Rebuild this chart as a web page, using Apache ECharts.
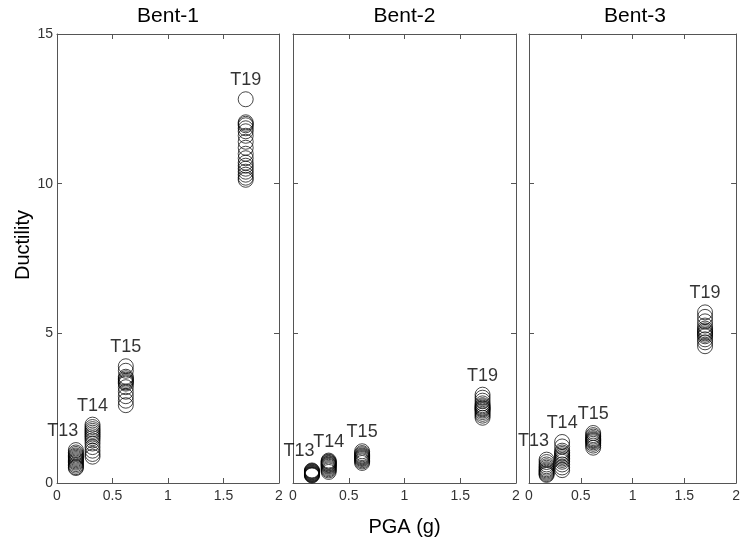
<!DOCTYPE html>
<html>
<head>
<meta charset="utf-8">
<title>Ductility vs PGA</title>
<script src="https://cdn.jsdelivr.net/npm/echarts@6/dist/echarts.min.js"></script>
<style>
  html, body { margin: 0; padding: 0; background: #fff; }
  #chart { width: 743px; height: 544px; }
</style>
</head>
<body>
<div id="chart"></div>
<script>
// Ductility demand per bent, for each ground motion set (T13, T14, T15, T19)

const bentNames = ['Bent-1', 'Bent-2', 'Bent-3'];
const groupNames = ['T13', 'T14', 'T15', 'T19'];
const groupPGA = [0.17, 0.32, 0.62, 1.70];
const xTicks = [0, 0.5, 1, 1.5, 2];
const yTicks = [0, 5, 10, 15];

// one list of ductility values per group (T13, T14, T15, T19)
const bent1Ductility = [
    [1.1, 1.02, 0.97, 0.92, 0.88, 0.84, 0.8, 0.76, 0.72, 0.68, 0.63, 0.58, 0.53, 0.5],
    [1.95, 1.87, 1.8, 1.74, 1.68, 1.62, 1.56, 1.5, 1.42, 1.32, 1.2, 1.08, 0.97, 0.88],
    [3.9, 3.75, 3.55, 3.5, 3.45, 3.4, 3.36, 3.32, 3.2, 3.05, 2.9, 2.75, 2.6],
    [12.82, 12.05, 12.0, 11.95, 11.85, 11.75, 11.6, 11.4, 11.2, 11.0, 10.85, 10.7, 10.6, 10.5, 10.4, 10.3, 10.2, 10.13]
];
const bent2Ductility = [
    [0.42, 0.4, 0.38, 0.36, 0.34, 0.32, 0.3, 0.28, 0.27, 0.25],
    [0.75, 0.72, 0.7, 0.67, 0.65, 0.62, 0.6, 0.57, 0.54, 0.5, 0.46, 0.42, 0.37],
    [1.06, 1.0, 0.96, 0.92, 0.89, 0.86, 0.83, 0.8, 0.76, 0.72, 0.67],
    [2.95, 2.85, 2.75, 2.66, 2.6, 2.56, 2.52, 2.49, 2.46, 2.42, 2.37, 2.31, 2.25, 2.18]
];
const bent3Ductility = [
    [0.78, 0.7, 0.62, 0.56, 0.51, 0.46, 0.42, 0.38, 0.34, 0.3, 0.27],
    [1.37, 1.22, 1.08, 1.02, 0.97, 0.92, 0.87, 0.82, 0.77, 0.71, 0.62, 0.52, 0.43],
    [1.67, 1.6, 1.55, 1.5, 1.46, 1.43, 1.4, 1.36, 1.31, 1.25, 1.18],
    [5.7, 5.55, 5.4, 5.26, 5.16, 5.1, 5.05, 5.0, 4.95, 4.9, 4.8, 4.7, 4.57]
];
const allDuctility = [bent1Ductility, bent2Ductility, bent3Ductility];

const chart = echarts.init(document.getElementById('chart'));

const FONT = 'Liberation Sans, Arial, sans-serif';
const LINE = '#555';

const grids = [
    { left: 57, top: 34, width: 222, height: 449 },
    { left: 293, top: 34, width: 223, height: 449 },
    { left: 529, top: 34, width: 212, height: 449 }
];

const xAxes = [];
const yAxes = [];
const series = [];

grids.forEach((g, i) => {
    const tickStyle = { show: true, inside: true, length: 5, lineStyle: { color: LINE } };
    const lineStyle = { show: true, onZero: false, lineStyle: { color: LINE } };
    // bottom axis with labels
    xAxes.push({
        gridIndex: i, type: 'value', position: 'bottom',
        min: xTicks[0], max: xTicks[xTicks.length - 1], interval: 0.5,
        axisLine: lineStyle,
        axisTick: tickStyle,
        splitLine: { show: false },
        axisLabel: { show: true, margin: 6, color: '#333', fontSize: 14, fontFamily: FONT, showMinLabel: true, showMaxLabel: true },
        name: i === 1 ? 'PGA (g)' : '',
        nameLocation: 'middle', nameGap: 34,
        nameTextStyle: { color: '#000', fontSize: 20, fontFamily: FONT }
    });
    // top axis: box + ticks only
    xAxes.push({
        gridIndex: i, type: 'value', position: 'top',
        min: xTicks[0], max: xTicks[xTicks.length - 1], interval: 0.5,
        axisLine: lineStyle,
        axisTick: tickStyle,
        splitLine: { show: false },
        axisLabel: { show: false }
    });
    yAxes.push({
        gridIndex: i, type: 'value', position: 'left',
        min: yTicks[0], max: yTicks[yTicks.length - 1], interval: 5,
        axisLine: lineStyle,
        axisTick: tickStyle,
        splitLine: { show: false },
        axisLabel: { show: i === 0, margin: 4, color: '#333', fontSize: 14, fontFamily: FONT }
    });
    yAxes.push({
        gridIndex: i, type: 'value', position: 'right',
        min: yTicks[0], max: yTicks[yTicks.length - 1], interval: 5,
        axisLine: lineStyle,
        axisTick: tickStyle,
        splitLine: { show: false },
        axisLabel: { show: false }
    });

    const groups = allDuctility[i];
    groups.forEach((vals, k) => {
        series.push({
            type: 'scatter',
            xAxisIndex: i * 2, yAxisIndex: i * 2,
            symbol: 'circle', symbolSize: 15,
            itemStyle: { color: 'rgba(0,0,0,0)', borderColor: '#000', borderWidth: 0.9 },
            clip: false,
            silent: true,
            data: vals.map(v => [groupPGA[k], v])
        });
        // group name above the highest circle
        series.push({
            type: 'scatter',
            xAxisIndex: i * 2, yAxisIndex: i * 2,
            symbolSize: 0,
            silent: true,
            z: 5,
            data: [{ name: groupNames[k], value: [groupPGA[k], Math.max(...vals)] }],
            label: {
                show: true, position: 'top', distance: 10,
                offset: [k === 0 ? -13 : 0, 0],
                formatter: '{b}', color: '#000', fontSize: 18, fontFamily: FONT
            }
        });
    });
});

const option = {
    animation: false,
    backgroundColor: '#fff',
    title: bentNames.map((n, i) => ({
        text: n,
        left: grids[i].left + grids[i].width / 2,
        top: 6,
        textAlign: 'center',
        padding: 0,
        textStyle: { color: '#000', fontSize: 21, fontWeight: 'normal', fontFamily: FONT }
    })),
    grid: grids,
    xAxis: xAxes,
    yAxis: yAxes,
    graphic: [{
        type: 'text',
        x: 23, y: 245,
        rotation: Math.PI / 2,
        style: { text: 'Ductility', fill: '#000', font: '20px ' + FONT, align: 'center', verticalAlign: 'middle' }
    }],
    series: series
};

chart.setOption(option);
</script>
</body>
</html>
